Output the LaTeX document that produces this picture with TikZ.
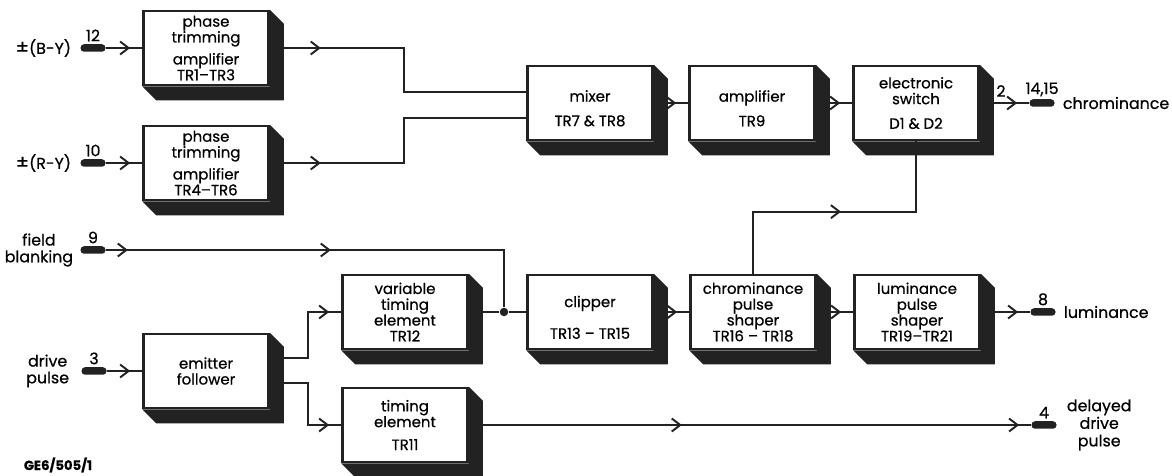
\documentclass[tikz,border=0pt]{standalone}
\usepackage{fontspec}
\setmainfont{Poppins}[FakeBold=0.6]
\usetikzlibrary{arrows.meta, calc, positioning, decorations.markings}
\definecolor{tinta}{HTML}{222222}
\tikzset{
  bloque/.style={rectangle, draw=tinta, line width=1.5pt, fill=white, minimum width=25mm, minimum height=14.8mm,
                 inner sep=1pt, align=center, font=\fontsize{8.5}{9}\selectfont},
  borne/.style={rectangle, rounded corners=0.7mm, fill=tinta, minimum width=5mm, minimum height=1.5mm, inner sep=0pt},
  rotulo/.style={font=\fontsize{9}{9.5}\selectfont, align=center, inner sep=1pt},
  numero/.style={font=\fontsize{9}{10}\selectfont, inner sep=1pt},
  linea/.style={draw=tinta, line width=1.1pt},
  flecha/.style={postaction={decorate, decoration={markings,
                 mark=at position #1 with {\arrow{Straight Barb[length=1.7mm, width=2.6mm]}}}}},
  flecha/.default=-2.4mm,
  punto/.style={circle, fill=tinta, minimum size=1.7mm, inner sep=0pt}
}
\newcommand{\sombra}[1]{%
  \fill[tinta] (#1.north east) -- ++(14,14) |- ($(#1.south west)+(14,14)$) -- (#1.south west) -- (#1.south east) -- cycle;}
\newcommand{\hueco}{\mbox{}\\[3.5pt]}
\newcommand{\mas}{{\fontsize{11}{11}\selectfont ±}}

\begin{document}
\begin{tikzpicture}[x=0.2mm, y=-0.2mm]
  \useasboundingbox (0,0) rectangle (1172,476);
  % bloques de croma
  \node (faseA) [bloque] at (206,48) {phase\\trimming\\[3.5pt]amplifier\\TR1--TR3};
  \node (faseB) [bloque] at (206,163) {phase\\trimming\\[3.5pt]amplifier\\TR4--TR6};
  \node (mezcla) [bloque] at (590,103) {\hueco mixer\\[5pt]TR7 \& TR8};
  \node (ampli) [bloque] at (752,103) {\hueco amplifier\\[5pt]TR9};
  \node (llave) [bloque] at (916,103) {electronic\\switch\\[5pt]D1 \& D2};
  % bloques de pulsos
  \node (retvar) [bloque] at (405,312) {variable\\timing\\element\\TR12};
  \node (recorte) [bloque] at (590,312) {\hueco clipper\\[9pt]TR13 -- TR15};
  \node (formac) [bloque] at (753,312) {chrominance\\pulse\\shaper\\TR16 -- TR18};
  \node (formal) [bloque] at (917,312) {luminance\\pulse\\shaper\\TR19--TR21};
  \node (seguidor) [bloque] at (206,371) {emitter\\follower};
  \node (retfijo) [bloque] at (405,425) {timing\\element\\[4pt]TR11};
  \foreach \b in {faseA,faseB,mezcla,ampli,llave,retvar,recorte,formac,formal,seguidor,retfijo} {\sombra{\b}}
  \node (union) [punto] at (504,312) {};
  % bornes de entrada
  \node (bBY) [borne] at (93,48) {};
  \node (bRY) [borne] at (93,163) {};
  \node (bFB) [borne] at (93,250) {};
  \node (bDP) [borne] at (94,371) {};
  \node (nBY) [numero, above=0.1mm of bBY] {12};
  \node (nRY) [numero, above=0.1mm of bRY] {10};
  \node (nFB) [numero, above=0.1mm of bFB] {9};
  \node (nDP) [numero, above=0.1mm of bDP] {3};
  \node (tBY) [rotulo, left=1.4mm of bBY] {\mas(B-Y)};
  \node (tRY) [rotulo, left=1.4mm of bRY] {\mas(R-Y)};
  \node (tFB) [rotulo, left=1mm of bFB] {field\\blanking};
  \node (tDP) [rotulo, left=2mm of bDP] {drive\\pulse};
  % bornes de salida
  \node (bCh) [borne] at (1042,103) {};
  \node (bLu) [borne] at (1043,312) {};
  \node (bDD) [borne] at (1044,425) {};
  \node (nCh) [numero, above=0.1mm of bCh] {14,15};
  \node (nLu) [numero, above=0.1mm of bLu] {8};
  \node (nDD) [numero, above=0.1mm of bDD] {4};
  \node (n2) [numero] at (1001,91) {2};
  \node (tCh) [rotulo, right=1.2mm of bCh] {chrominance};
  \node (tLu) [rotulo, right=1.2mm of bLu] {luminance};
  \node (tDD) [rotulo, right=1.6mm of bDD, font=\fontsize{9}{10}\selectfont] {delayed\\drive\\pulse};
  \node (plano) [font=\fontsize{7.5}{8}\selectfont\bfseries, inner sep=0pt] at (58,465) {GE6/505/1};
  % conexiones
  \draw [linea, flecha] (bBY.east) -- (faseA.west);
  \draw [linea, flecha] (bRY.east) -- (faseB.west);
  \draw [linea, flecha=10.2mm] (faseA.east) -- ++(134,0) |- ([yshift=2.2mm]mezcla.west);
  \draw [linea, flecha=10.2mm] (faseB.east) -- ++(134,0) |- ([yshift=-3mm]mezcla.west);
  \draw [linea, flecha] (mezcla.east) -- (ampli.west);
  \draw [linea, flecha] (ampli.east) -- (llave.west);
  \draw [linea, flecha] (llave.east) -- (bCh.west);
  \draw [linea, flecha=30mm] (formac.north) -- ++(0,-62) -| (llave.south);
  \draw [linea, flecha=4.4mm, flecha=45mm] (bFB.east) -| (union);
  \draw [linea] (retvar.east) -- (union) -- (recorte.west);
  \draw [linea, flecha] (recorte.east) -- (formac.west);
  \draw [linea, flecha] (formac.east) -- (formal.west);
  \draw [linea, flecha] (formal.east) -- (bLu.west);
  \draw [linea, flecha] (bDP.east) -- (seguidor.west);
  \draw [linea, flecha] ([yshift=2.6mm]seguidor.east) -- ++(38,0) |- (retvar.west);
  \draw [linea, flecha] ([yshift=-2.4mm]seguidor.east) -- ++(38,0) |- (retfijo.west);
  \draw [linea, flecha=42.6mm, flecha] (retfijo.east) -- (bDD.west);
\end{tikzpicture}
\end{document}
